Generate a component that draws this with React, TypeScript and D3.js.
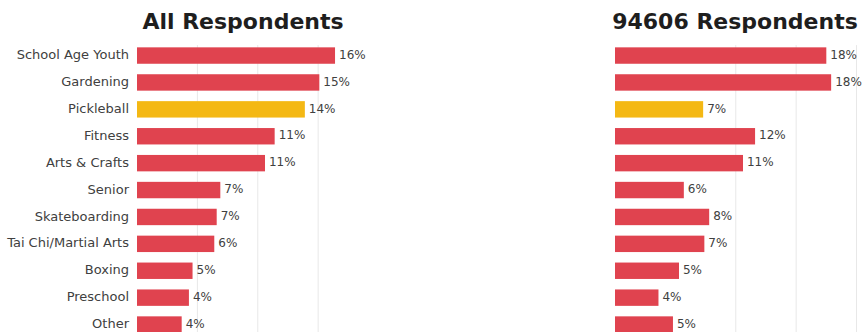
import React from "react";
import * as d3 from "d3";

const categories = [
  "School Age Youth",
  "Gardening",
  "Pickleball",
  "Fitness",
  "Arts & Crafts",
  "Senior",
  "Skateboarding",
  "Tai Chi/Martial Arts",
  "Boxing",
  "Preschool",
  "Other",
];
const allValues = [16.4, 15.1, 13.9, 11.4, 10.6, 6.9, 6.6, 6.4, 4.6, 4.3, 3.7];
const zipValues = [17.5, 17.9, 7.3, 11.6, 10.6, 5.7, 7.8, 7.4, 5.3, 3.6, 4.8];
const highlight = "Pickleball";
const leftTitle = "All Respondents";
const rightTitle = "94606 Respondents";
const leftGrid = [5, 10, 15];
const rightGrid = [10, 15, 20];

const RED = "#e0434f";
const YELLOW = "#f4b814";
const FONT = "'DejaVu Sans', sans-serif";

const y = d3
  .scaleBand<string>()
  .domain(categories)
  .range([42.1, 42.1 + 26.9 * categories.length])
  .paddingInner(0.39)
  .paddingOuter(0.195);

function Panel({ x0, values, grid, title, titleX, showLabels }: any) {
  const x = d3.scaleLinear().domain([0, 20]).range([x0, x0 + 241.5]);
  return (
    <g>
      <text
        x={titleX}
        y={28.5}
        textAnchor="middle"
        fontFamily={FONT}
        fontWeight="bold"
        fontSize={22}
        fill="#1e1e1e"
      >
        {title}
      </text>
      {grid.map((g: number) => (
        <line key={g} x1={x(g)} x2={x(g)} y1={y.range()[0] + 3} y2={332} stroke="#e8e8e8" strokeWidth={1} />
      ))}
      {categories.map((c, i) => {
        const v = values[i];
        const yy = y(c)!;
        const cy = yy + y.bandwidth() / 2;
        return (
          <g key={c}>
            <rect
              x={x(0)}
              y={yy}
              width={x(v) - x(0)}
              height={y.bandwidth()}
              fill={c === highlight ? YELLOW : RED}
            />
            <text
              x={x(v) + 4}
              y={cy - 1}
              dy="0.35em"
              fontFamily={FONT}
              fontSize={12}
              fill="#404040"
            >
              {Math.round(v) + "%"}
            </text>
            {showLabels && (
              <text
                x={x0 - 8}
                y={cy - 1}
                dy="0.35em"
                textAnchor="end"
                fontFamily={FONT}
                fontSize={13}
                fill="#404040"
              >
                {c}
              </text>
            )}
          </g>
        );
      })}
    </g>
  );
}

export default function App() {
  return (
    <svg
      width={862}
      height={332}
      style={{ position: "absolute", left: 0, top: 0, background: "#fff" }}
    >
      <Panel x0={137} values={allValues} grid={leftGrid} title={leftTitle} titleX={243} showLabels />
      <Panel x0={615} values={zipValues} grid={rightGrid} title={rightTitle} titleX={735} showLabels={false} />
    </svg>
  );
}
